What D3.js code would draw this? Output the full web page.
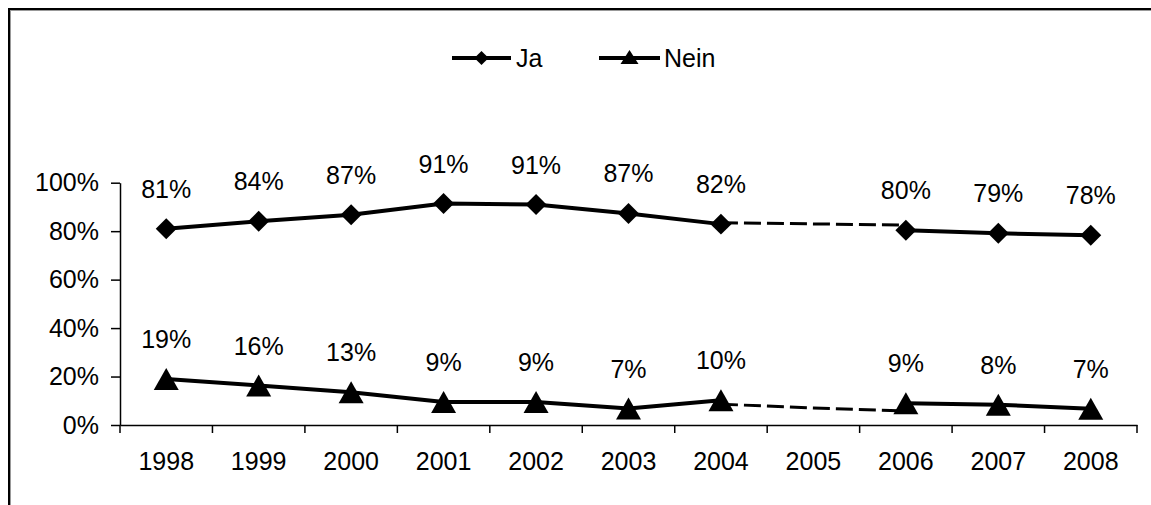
<!DOCTYPE html>
<html>
<head>
<meta charset="utf-8">
<script src="https://cdn.jsdelivr.net/npm/d3@7"></script>
<style>
  html, body { margin: 0; padding: 0; background: #fff; }
  svg { display: block; }
  text { font-family: "Liberation Sans", Arial, sans-serif; fill: #000; }
</style>
</head>
<body>
<svg id="chart" width="1151" height="505"></svg>
<script>
// ---- data ----
const years = ["1998","1999","2000","2001","2002","2003","2004","2005","2006","2007","2008"];
const jaValues   = [81, 84.1, 86.8, 91.4, 91.0, 87.3, 82.9, null, 80.4, 79.1, 78.3];
const neinValues = [19, 16.3, 13.5, 9.5, 9.5, 6.8, 10.2, null, 9.0, 8.4, 6.7];
const jaLabels   = ["81%","84%","87%","91%","91%","87%","82%","","80%","79%","78%"];
const neinLabels = ["19%","16%","13%","9%","9%","7%","10%","","9%","8%","7%"];
// dashed connector across the missing year (2004 -> 2005 -> 2006)
const gapYears = ["2004","2005","2006"];
const jaGap    = [83.5, 83.0, 82.5];
const neinGap  = [8.6, 7.0, 5.8];
const yTicks = [0, 20, 40, 60, 80, 100];
const seriesNames = ["Ja", "Nein"];

(function () {
// ---- layout ----
const svg = d3.select("#chart");
const mLeft = 120, mRight = 1137, mTop = 182.7, mBottom = 425;
const FS = 25;

const x = d3.scaleBand().domain(years).range([mLeft, mRight]).padding(0);
const cx = d => x(d) + x.bandwidth() / 2;
const y = d3.scaleLinear().domain([0, 100]).range([mBottom, mTop]);

// outer frame
svg.append("rect").attr("x", 9).attr("y", 9).attr("width", 1300).attr("height", 700)
  .attr("fill", "none").attr("stroke", "#000").attr("stroke-width", 2);
svg.append("rect").attr("x", 10.5).attr("y", 10.5).attr("width", 1300).attr("height", 700)
  .attr("fill", "none").attr("stroke", "#999").attr("stroke-width", 1);

// y axis
const yAxis = svg.append("g").attr("transform", `translate(${mLeft},0)`)
  .call(d3.axisLeft(y).tickValues(yTicks).tickFormat(d => d + "%").tickSize(9).tickSizeOuter(0).tickPadding(12));
yAxis.select(".domain").attr("stroke", "#000").attr("stroke-width", 1.5);
yAxis.selectAll(".tick line").attr("stroke", "#000").attr("stroke-width", 1.5);
yAxis.selectAll("text").attr("font-size", FS).attr("font-family", "Liberation Sans, Arial, sans-serif").attr("fill", "#000");

// x axis (labels)
const xAxis = svg.append("g").attr("transform", `translate(0,${mBottom})`)
  .call(d3.axisBottom(x).tickSize(0).tickSizeOuter(0).tickPadding(27));
xAxis.select(".domain").attr("stroke", "#000").attr("stroke-width", 1.5);
xAxis.selectAll("text").attr("font-size", FS).attr("font-family", "Liberation Sans, Arial, sans-serif").attr("fill", "#000");
// x axis boundary ticks (between categories)
const boundaries = years.map(d => x(d)).concat([x.range()[1]]);
svg.append("g").selectAll("line").data(boundaries).join("line")
  .attr("x1", d => d).attr("x2", d => d).attr("y1", mBottom).attr("y2", mBottom + 8)
  .attr("stroke", "#000").attr("stroke-width", 1.5);

// lines
const line = d3.line().defined(d => d.v != null).x(d => cx(d.year)).y(d => y(d.v));
function draw(values, gapVals) {
  const pts = years.map((yr, i) => ({ year: yr, v: values[i] }));
  const gp = gapYears.map((yr, i) => ({ year: yr, v: gapVals[i] }));
  svg.append("path").datum(gp).attr("d", line).attr("fill", "none")
    .attr("stroke", "#000").attr("stroke-width", 3).attr("stroke-dasharray", "17,6");
  svg.append("path").datum(pts).attr("d", line).attr("fill", "none")
    .attr("stroke", "#000").attr("stroke-width", 4).attr("stroke-linejoin", "round");
  return pts;
}
const jaPts = draw(jaValues, jaGap);
const neinPts = draw(neinValues, neinGap);

// markers
const diamond = d3.symbol().type(d3.symbolSquare).size(220);
svg.append("g").selectAll("path").data(jaPts.filter(d => d.v != null)).join("path")
  .attr("d", diamond)
  .attr("transform", d => `translate(${cx(d.year)},${y(d.v)}) rotate(45)`)
  .attr("fill", "#000");
function triPath(w, h) {
  return `M0,${-h / 2}L${w / 2},${h / 2}L${-w / 2},${h / 2}Z`;
}
svg.append("g").selectAll("path").data(neinPts.filter(d => d.v != null)).join("path")
  .attr("d", triPath(25, 22))
  .attr("transform", d => `translate(${cx(d.year)},${y(d.v)})`)
  .attr("fill", "#000");

// data labels
svg.append("g").selectAll("text").data(jaPts.filter(d => d.v != null)).join("text")
  .attr("x", d => cx(d.year)).attr("y", d => y(d.v) - 31)
  .attr("text-anchor", "middle").attr("font-size", FS)
  .text(d => jaLabels[years.indexOf(d.year)]);
svg.append("g").selectAll("text").data(neinPts.filter(d => d.v != null)).join("text")
  .attr("x", d => cx(d.year)).attr("y", d => y(d.v) - 31)
  .attr("text-anchor", "middle").attr("font-size", FS)
  .text(d => neinLabels[years.indexOf(d.year)]);

// legend
const lg = svg.append("g");
const legendItems = [
  { name: seriesNames[0], x1: 452, x2: 511, tx: 516, marker: "diamond" },
  { name: seriesNames[1], x1: 599, x2: 660, tx: 664, marker: "tri" }
];
const ly = 58;
legendItems.forEach(it => {
  lg.append("line").attr("x1", it.x1).attr("x2", it.x2).attr("y1", ly).attr("y2", ly)
    .attr("stroke", "#000").attr("stroke-width", 4);
  const mx = (it.x1 + it.x2) / 2;
  if (it.marker === "diamond") {
    lg.append("path").attr("d", d3.symbol().type(d3.symbolSquare).size(100))
      .attr("transform", `translate(${mx},${ly}) rotate(45)`).attr("fill", "#000");
  } else {
    lg.append("path").attr("d", triPath(18, 14))
      .attr("transform", `translate(${mx},${ly - 1})`).attr("fill", "#000");
  }
  lg.append("text").attr("x", it.tx).attr("y", ly + 9).attr("font-size", FS).text(it.name);
});
})();
</script>
</body>
</html>
